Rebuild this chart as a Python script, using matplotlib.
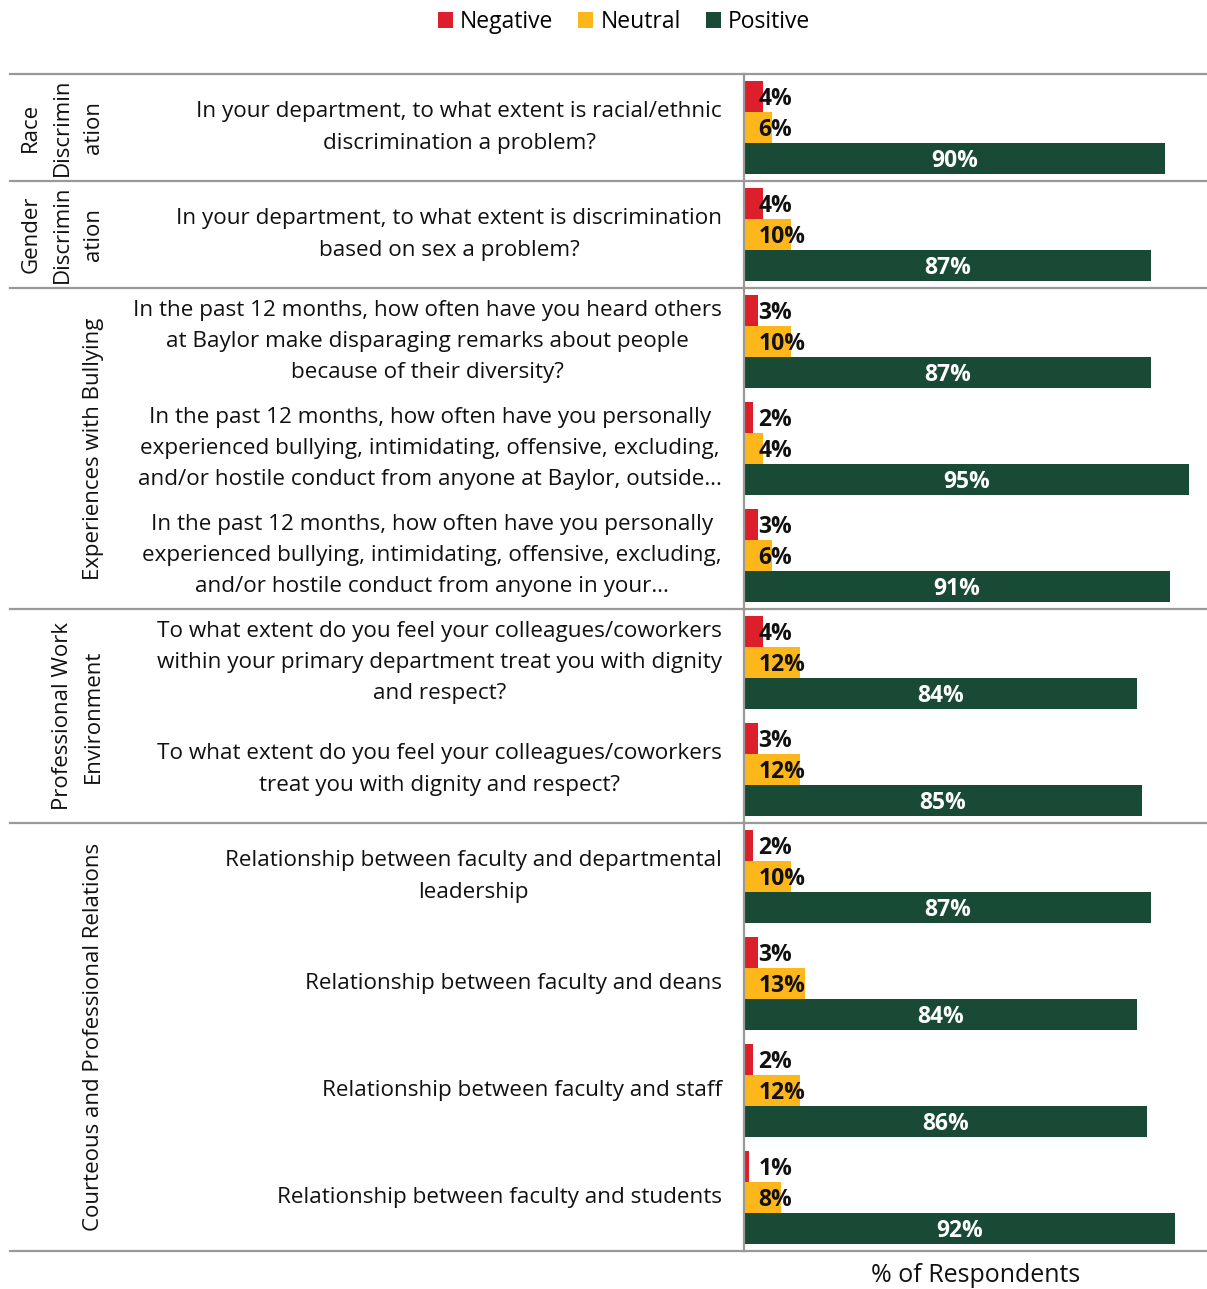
import matplotlib
matplotlib.use("Agg")
import matplotlib.pyplot as plt
from matplotlib.patches import Patch

plt.rcParams['font.family'] = ['Open Sans', 'DejaVu Sans']

questions = [
    "In your department, to what extent is racial/ethnic\ndiscrimination a problem?",
    "In your department, to what extent is discrimination\nbased on sex a problem?",
    "In the past 12 months, how often have you heard others\nat Baylor make disparaging remarks about people\nbecause of their diversity?",
    "In the past 12 months, how often have you personally\nexperienced bullying, intimidating, offensive, excluding,\nand/or hostile conduct from anyone at Baylor, outside…",
    "In the past 12 months, how often have you personally\nexperienced bullying, intimidating, offensive, excluding,\nand/or hostile conduct from anyone in your…",
    "To what extent do you feel your colleagues/coworkers\nwithin your primary department treat you with dignity\nand respect?",
    "To what extent do you feel your colleagues/coworkers\ntreat you with dignity and respect?",
    "Relationship between faculty and departmental\nleadership",
    "Relationship between faculty and deans",
    "Relationship between faculty and staff",
    "Relationship between faculty and students",
]
negative = [4, 4, 3, 2, 3, 4, 3, 2, 3, 2, 1]
neutral = [6, 10, 10, 4, 6, 12, 12, 10, 13, 12, 8]
positive = [90, 87, 87, 95, 91, 84, 85, 87, 84, 86, 92]

groups = ["Race\nDiscrimin\nation", "Gender\nDiscrimin\nation",
          "Experiences with Bullying", "Professional Work\nEnvironment",
          "Courteous and Professional Relations"]
group_sizes = [1, 1, 3, 2, 4]

series_names = ["Negative", "Neutral", "Positive"]
colors = ["#DC1F2A", "#FDB71B", "#184A35"]

W, H = 1207, 1289
fig = plt.figure(figsize=(W / 100, H / 100), dpi=100)

top_px, bot_px = 74, 1251
ax_left_px, ax_right_px = 744, 1207
lab_left_px = 10

def fy(p):
    return 1 - p / H

ax = fig.add_axes([ax_left_px / W, fy(bot_px), (ax_right_px - ax_left_px) / W,
                   (bot_px - top_px) / H])
axl = fig.add_axes([lab_left_px / W, fy(bot_px), (ax_left_px - lab_left_px) / W,
                    (bot_px - top_px) / H])

n = len(questions)
bh = 0.29
for i in range(n):
    vals = [negative[i], neutral[i], positive[i]]
    for k, (v, c) in enumerate(zip(vals, colors)):
        y = i + 0.5 + (k - 1) * bh
        ax.barh(y, v, height=bh, color=c, edgecolor='none')
        if k < 2:
            ax.text(3.1, y + 0.02, f"{v}%", ha='left', va='center',
                    fontsize=16.5, fontweight='bold', color='#111111')
        else:
            ax.text(v / 2, y + 0.02, f"{v}%", ha='center', va='center',
                    fontsize=16.5, fontweight='bold', color='white')

ax.set_xlim(0, 98.9)
ax.set_ylim(n, 0)
ax.set_xticks([])
ax.set_yticks([])
for s in ['top', 'right', 'bottom']:
    ax.spines[s].set_visible(False)
ax.spines['left'].set_color('#999999')
ax.spines['left'].set_linewidth(1.6)
ax.set_xlabel("% of Respondents", fontsize=18, color='#111111', labelpad=9)

axl.set_xlim(lab_left_px, ax_left_px)
axl.set_ylim(n, 0)
axl.axis('off')

for i, q in enumerate(questions):
    axl.text(722, i + 0.5, q, ha='right', va='center', fontsize=16.2,
             color='#111111', linespacing=1.65, multialignment='center')

bounds = [0]
for g in group_sizes:
    bounds.append(bounds[-1] + g)
for b in bounds:
    ax.axhline(b, color='#999999', lw=1.6, clip_on=False)
    axl.axhline(b, color='#999999', lw=1.6, clip_on=False)

for g, a, b in zip(groups, bounds[:-1], bounds[1:]):
    axl.text(104, (a + b) / 2, g, rotation=90, rotation_mode='anchor',
             ha='center', va='bottom', fontsize=16, color='#111111',
             linespacing=1.65, multialignment='center')

handles = [Patch(facecolor=c, edgecolor='none', label=l) for c, l in zip(colors, series_names)]
fig.legend(handles=handles, loc='center', bbox_to_anchor=(624 / W, fy(22)),
           ncol=3, frameon=False, fontsize=16.5, handlelength=0.65,
           handleheight=0.65, handletextpad=0.3, columnspacing=1.1)

fig.savefig("out.png", dpi=100)
